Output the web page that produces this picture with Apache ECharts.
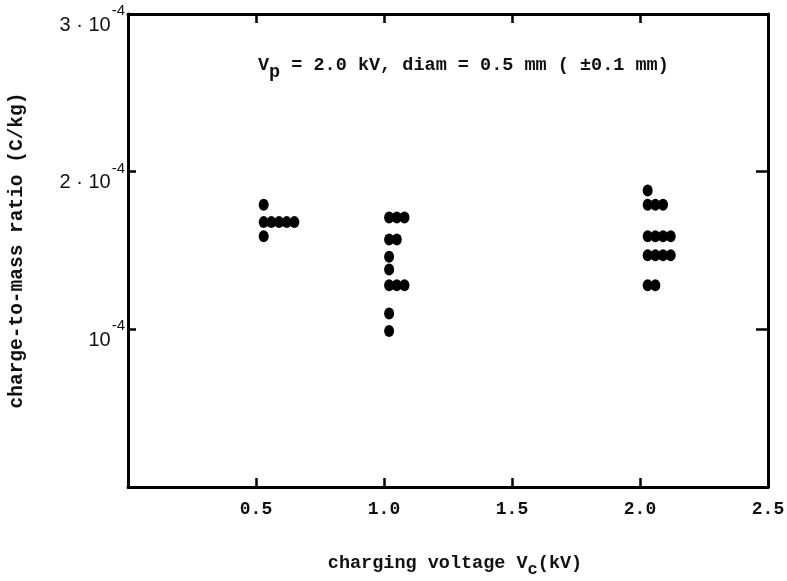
<!DOCTYPE html>
<html><head><meta charset="utf-8">
<script src="https://cdn.jsdelivr.net/npm/echarts@6/dist/echarts.min.js"></script>
<style>html,body{margin:0;padding:0;background:#fff}#c{width:787px;height:581px}</style>
</head><body><div id="c"></div>
<script>
// Tick labels
const xTickValues = [0.5, 1.0, 1.5, 2.0, 2.5];
const xTickLabels = ['0.5', '1.0', '1.5', '2.0', '2.5'];
const yTickValues = [1, 2, 3];            // in units of 1e-4 C/kg
const yTickLabels = ['10', '2 · 10', '3 · 10'];
const yTickExp = '-4';

// Measured points: charging voltage Vc (kV, with repeat offsets as drawn) and q/m (C/kg)
const vcX = [
  0.53, 0.53, 0.56, 0.59, 0.62, 0.65, 0.53,
  1.02, 1.05, 1.08, 1.02, 1.05, 1.02, 1.02, 1.02, 1.05, 1.08, 1.02, 1.02,
  2.03, 2.03, 2.06, 2.09, 2.03, 2.06, 2.09, 2.12, 2.03, 2.06, 2.09, 2.12, 2.03, 2.06
];
const qmY = [
  1.79e-4, 1.68e-4, 1.68e-4, 1.68e-4, 1.68e-4, 1.68e-4, 1.59e-4,
  1.71e-4, 1.71e-4, 1.71e-4, 1.57e-4, 1.57e-4, 1.46e-4, 1.38e-4, 1.28e-4, 1.28e-4, 1.28e-4, 1.10e-4, 0.99e-4,
  1.88e-4, 1.79e-4, 1.79e-4, 1.79e-4, 1.59e-4, 1.59e-4, 1.59e-4, 1.59e-4, 1.47e-4, 1.47e-4, 1.47e-4, 1.47e-4, 1.28e-4, 1.28e-4
];

const MONO = '"Liberation Mono", "DejaVu Sans Mono", monospace';
const SANS = '"Liberation Sans", Arial, sans-serif';
const INK = '#111';

const points = vcX.map((x, i) => [x, qmY[i]]);

const chart = echarts.init(document.getElementById('c'), null, {renderer: 'canvas'});
const axisLine = {show: true, onZero: false, lineStyle: {color: '#000', width: 3}};

chart.setOption({
  backgroundColor: '#fff',
  animation: false,
  title: {
    text: '{v|V}{p|p}{v| = 2.0 kV, diam = 0.5 mm ( ±0.1 mm)}',
    left: 253, top: 51,
    textStyle: {
      rich: {
        v: {fontFamily: MONO, fontWeight: 'bold', fontSize: 18.5, color: INK, verticalAlign: 'top', lineHeight: 20},
        p: {fontFamily: MONO, fontWeight: 'bold', fontSize: 18.5, color: INK, verticalAlign: 'top', lineHeight: 20, padding: [7, 0, 0, 0]}
      }
    }
  },
  grid: {left: 128, right: 19, top: 14, bottom: 94, outerBoundsMode: 'none', containLabel: false},
  xAxis: [{
    type: 'value', min: 0, max: 2.5, interval: 0.5, position: 'bottom',
    axisLine: axisLine,
    axisTick: {show: true, inside: true, length: 9, lineStyle: {color: '#000', width: 2.5}},
    splitLine: {show: false},
    axisLabel: {
      margin: 13, fontFamily: MONO, fontWeight: 'bold', fontSize: 18, color: INK,
      formatter: v => { const i = xTickValues.findIndex(t => Math.abs(t - v) < 1e-9); return i >= 0 ? xTickLabels[i] : ''; }
    },
    name: '{n|charging voltage V}{s|c}{n|(kV)}',
    nameLocation: 'middle', nameGap: 67,
    nameTextStyle: {
      padding: [0, 0, 0, 14],
      rich: {
        n: {fontFamily: MONO, fontWeight: 'bold', fontSize: 18.5, color: INK, verticalAlign: 'top', lineHeight: 20},
        s: {fontFamily: MONO, fontWeight: 'bold', fontSize: 17, color: INK, verticalAlign: 'top', lineHeight: 20, padding: [7, 0, 0, 0]}
      }
    }
  }, {
    type: 'value', min: 0, max: 2.5, interval: 0.5, position: 'top',
    axisLine: axisLine,
    axisTick: {show: true, inside: true, length: 9, lineStyle: {color: '#000', width: 2.5}},
    splitLine: {show: false},
    axisLabel: {show: false}
  }],
  yAxis: [{
    type: 'value', min: 0, max: 3e-4, interval: 1e-4, position: 'left',
    axisLine: axisLine,
    axisTick: {show: true, inside: true, length: 8, lineStyle: {color: '#000', width: 2.5}},
    splitLine: {show: false},
    axisLabel: {
      margin: 3,
      formatter: v => {
        const k = Math.round(v * 1e4);
        const i = yTickValues.indexOf(k);
        return i >= 0 ? '{b|' + yTickLabels[i] + '}{s|' + yTickExp + '}' : '';
      },
      rich: {
        b: {fontFamily: SANS, fontSize: 20, color: INK, lineHeight: 20, padding: [22, 0, 0, 0]},
        s: {fontFamily: SANS, fontSize: 15, color: INK, lineHeight: 15, padding: [0, 0, 6, 1]}
      }
    },
    name: 'charge-to-mass ratio (C/kg)',
    nameLocation: 'middle', nameRotate: 90, nameGap: 101,
    nameTextStyle: {fontFamily: MONO, fontWeight: 'bold', fontSize: 19.5, color: INK}
  }, {
    type: 'value', min: 0, max: 3e-4, interval: 1e-4, position: 'right',
    axisLine: axisLine,
    axisTick: {show: true, inside: true, length: 12, lineStyle: {color: '#000', width: 2.5}},
    splitLine: {show: false},
    axisLabel: {show: false}
  }],
  series: [{
    type: 'scatter',
    xAxisIndex: 0, yAxisIndex: 0,
    data: points,
    symbol: 'circle',
    symbolSize: [10, 12],
    itemStyle: {color: '#000', opacity: 1}
  }]
});
</script>
</body></html>
